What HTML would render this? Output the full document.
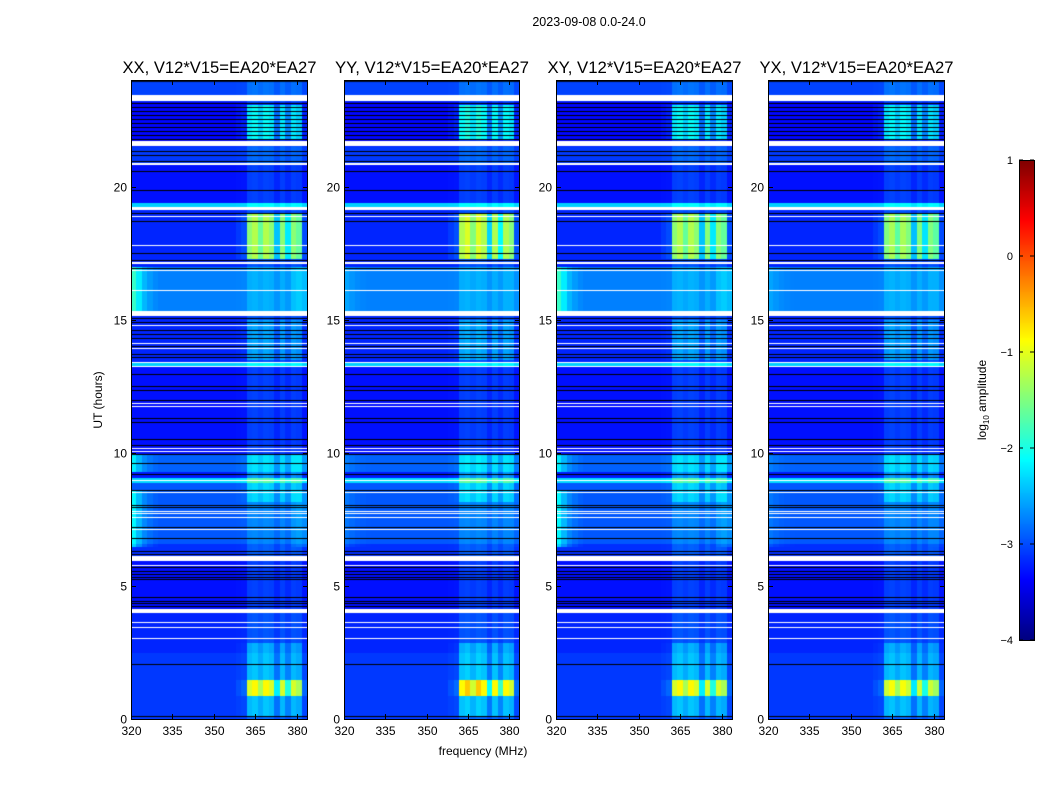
<!DOCTYPE html>
<html><head><meta charset="utf-8">
<style>
body{margin:0;background:#fff;}
#root{position:relative;width:1050px;height:800px;overflow:hidden;background:#fff;font-family:"Liberation Sans",sans-serif;}
canvas{position:absolute;}
svg{position:absolute;left:0;top:0;}
</style></head>
<body>
<div id="root">
<canvas id="c0" width="177" height="639" style="left:131px;top:80px"></canvas>
<canvas id="c1" width="176" height="639" style="left:344px;top:80px"></canvas>
<canvas id="c2" width="177" height="639" style="left:556px;top:80px"></canvas>
<canvas id="c3" width="177" height="639" style="left:768px;top:80px"></canvas>
<canvas id="cb" width="15" height="480" style="left:1019px;top:160px"></canvas>
<svg id="ov" width="1050" height="800"></svg>
</div>
<script>
// ---- data ----
const panelTitles = ["XX, V12*V15=EA20*EA27","YY, V12*V15=EA20*EA27","XY, V12*V15=EA20*EA27","YX, V12*V15=EA20*EA27"];
const panelLeft = [131,344,556,768];
const panelWidth = [177,176,177,177];
const xTicks = [320,335,350,365,380];
const yTicks = [0,5,10,15,20];
const cbTicks = [1,0,-1,-2,-3,-4];
// frequency channels (MHz centres, 2 MHz wide)
const chanFreq = [321,323,325,327,329,331,333,335,337,339,341,343,345,347,349,351,353,355,357,359,361,363,365,367,369,371,373,375,377,379,381,383];
const chanRfi   = [0,0,0,0,0,0,0,0,0,0,0,0,0,0,0,0,0,0,0,0.05,0.1,0.9,1.0,0.8,1.0,0.9,0.4,0.9,0.5,0.9,0.8,0.1];
const chanEdge  = [1.0,0.6,0.3,0.15,0.05,0,0,0,0,0,0,0,0,0,0,0,0,0,0,0,0,0,0,0,0,0,0,0,0,0.1,0.2,0.3];
// base level segments (hours, log10 amplitude)
const segStart = [0,2.5,4.0,6.1,6.6,8.9,9.1,9.3,10.0,13.35,13.45,15.3,17.2,19.2,19.4,20.9,21.7,23.45];
const segEnd   = [2.5,4.0,6.1,6.6,8.9,9.1,9.3,10.0,13.35,13.45,15.3,17.0,19.2,19.4,20.9,21.5,23.2,24.0];
const segLevel = [-3.1,-3.2,-3.3,-3.15,-2.95,-2.3,-3.25,-2.9,-3.3,-2.35,-3.2,-2.75,-3.2,-2.35,-3.3,-3.1,-3.35,-3.05];
// edge-brightening periods
const edgeStart = [6.5,9.3,15.3];
const edgeEnd   = [8.6,10.0,17.0];
const edgeLevel = [0.8,0.7,0.9];
// RFI bursts in the 362-382 MHz channels
const burstStart = [0.9,17.3,21.8,0.1,8.2,13.5,18.3];
const burstEnd   = [1.5,19.0,23.1,2.9,10.0,15.0,18.6];
const burstLevel = [2.0,1.7,1.0,0.45,0.4,0.4,0.35];
const panelBurstScale = [1.0,1.12,1.0,0.97];
const panelEdgeScale  = [1.0,0.2,1.0,0.2];
// flagged (white) bands, hours
const whiteStart = [23.2,21.52,20.83,19.1,18.85,17.78,17.1,16.84,16.09,15.12,14.74,14.1,13.88,13.35,13.2,11.84,11.73,10.15,10.04,8.92,8.5,7.79,7.68,7.53,7.08,5.94,5.76,3.98,3.63,3.44,3.02];
const whiteEnd   = [23.44,21.7,20.9,19.23,18.9,17.82,17.18,16.88,16.13,15.32,14.78,14.14,13.92,13.39,13.24,11.88,11.77,10.19,10.08,8.96,8.54,7.83,7.72,7.57,7.12,6.12,5.8,4.13,3.66,3.47,3.05];
// dark lines, hours
const blackH = [23.95,23.15,23.0,22.85,22.7,22.55,22.4,22.25,22.1,21.95,21.8,21.35,21.2,20.95,20.6,19.85,19.0,18.7,17.5,17.25,16.95,15.05,14.9,14.6,14.45,14.3,14.0,13.7,13.6,12.95,12.5,12.35,12.0,11.3,11.15,10.5,10.3,9.95,9.6,9.2,8.6,8.05,7.95,7.2,6.8,6.3,6.2,5.7,5.55,5.45,5.35,5.25,4.6,4.45,4.35,4.25,2.05,0.1];

// ---- scales ----
const Y0=80, Y1=719, HMAX=24;
function yScale(h){return Y1-(h/HMAX)*(Y1-Y0);}
function xScale(f,p){return panelLeft[p]+(f-320)/64*panelWidth[p];}
function jet(t){t=Math.max(0,Math.min(1,t));
 const r=Math.max(0,Math.min(1,Math.min(4*t-1.5,-4*t+4.5)));
 const g=Math.max(0,Math.min(1,Math.min(4*t-0.5,-4*t+3.5)));
 const b=Math.max(0,Math.min(1,Math.min(4*t+0.5,-4*t+2.5)));
 return `rgb(${Math.round(r*255)},${Math.round(g*255)},${Math.round(b*255)})`;}
function cval(v){return jet((v+4)/5);}
function inSeg(h,s,e){for(let i=0;i<s.length;i++) if(h>=s[i]&&h<e[i]) return i; return -1;}

// ---- heatmaps ----
const NROW=240;
for(let p=0;p<4;p++){
 const cv=document.getElementById('c'+p), ctx=cv.getContext('2d');
 const ox=panelLeft[p];
 ctx.fillStyle=cval(-3.2);ctx.fillRect(0,0,cv.width,cv.height);
 for(let r=0;r<NROW;r++){
  const h0=r*HMAX/NROW, h1=(r+1)*HMAX/NROW, hm=(h0+h1)/2;
  const si=inSeg(hm,segStart,segEnd); const base=si>=0?segLevel[si]:-3.2;
  const ei=inSeg(hm,edgeStart,edgeEnd); const edge=ei>=0?edgeLevel[ei]*panelEdgeScale[p]:0;
  let burst=0; for(let i=0;i<burstStart.length;i++) if(hm>=burstStart[i]&&hm<burstEnd[i]) burst=Math.max(burst,burstLevel[i]);
  burst*=panelBurstScale[p];
  for(let c=0;c<chanFreq.length;c++){
   const v=base+chanRfi[c]*(0.25+burst)+chanEdge[c]*edge;
   const xa=xScale(chanFreq[c]-1,p)-ox, xb=xScale(chanFreq[c]+1,p)-ox;
   ctx.fillStyle=cval(v);
   ctx.fillRect(Math.floor(xa),Math.floor(yScale(h1)-Y0),Math.ceil(xb-xa)+1,Math.ceil(yScale(h0)-yScale(h1))+1);
  }
 }
 ctx.fillStyle='#000';
 for(const h of blackH){ctx.fillRect(0,Math.round(yScale(h)-Y0),cv.width,1);}
 ctx.fillStyle='#fff';
 for(let i=0;i<whiteStart.length;i++){const ya=yScale(whiteEnd[i])-Y0, yb=yScale(whiteStart[i])-Y0;ctx.fillRect(0,Math.round(ya),cv.width,Math.max(1,Math.round(yb-ya)));}
}
// colorbar
{const cv=document.getElementById('cb'),ctx=cv.getContext('2d');
 for(let y=0;y<480;y++){ctx.fillStyle=jet(1-y/479);ctx.fillRect(0,y,15,1);}}

// ---- axes overlay ----
const svg=document.getElementById('ov');const NS='http://www.w3.org/2000/svg';
function mk(tag,attrs,parent){const e=document.createElementNS(NS,tag);for(const k in attrs)e.setAttribute(k,attrs[k]);(parent||svg).appendChild(e);return e;}
function txt(s,attrs,name){const e=mk('text',Object.assign({'font-family':'Liberation Sans, sans-serif','font-size':12,fill:'#000'},attrs));e.textContent=s;
 
 
 return e;}
txt('2023-09-08 0.0-24.0',{x:589,y:26,'text-anchor':'middle','font-size':12.5},'figure-title');
for(let p=0;p<4;p++){
 const L=panelLeft[p],R=L+panelWidth[p];
 const fr=mk('rect',{x:L+0.5,y:Y0+0.5,width:panelWidth[p]-1,height:Y1-Y0,fill:'none',stroke:'#000','stroke-width':1});
 
 
 txt(panelTitles[p],{x:(L+R)/2,y:73,'text-anchor':'middle','font-size':16.5,textLength:194,lengthAdjust:'spacingAndGlyphs'},'panel-title');
 for(const f of xTicks){const x=Math.round(xScale(f,p))+0.5;
  mk('line',{x1:x,x2:x,y1:Y1,y2:Y1-5,stroke:'#000'});mk('line',{x1:x,x2:x,y1:Y0,y2:Y0+5,stroke:'#000'});
  txt(String(f),{x:x,y:Y1+16,'text-anchor':'middle'},'x-tick-label');}
 for(const h of yTicks){const y=Math.round(yScale(h))+0.5;
  mk('line',{x1:L,x2:L+5,y1:y,y2:y,stroke:'#000'});mk('line',{x1:R-5,x2:R,y1:y,y2:y,stroke:'#000'});
  txt(String(h),{x:L-4,y:y+4,'text-anchor':'end'},'y-tick-label');}
}
txt('frequency (MHz)',{x:483,y:755,'text-anchor':'middle'},'x-axis-title');
txt('UT (hours)',{x:0,y:0,transform:'translate(102,400) rotate(-90)','text-anchor':'middle'},'y-axis-title');
const cbf=mk('rect',{x:1019.5,y:160.5,width:15,height:480,fill:'none',stroke:'#000'});


cbTicks.forEach((v,i)=>{const y=160+(1-v)/5*480;
 mk('line',{x1:1019,x2:1023,y1:y,y2:y,stroke:'#000'});mk('line',{x1:1030,x2:1034,y1:y,y2:y,stroke:'#000'});
 txt(v<0?'\u2212'+(-v):String(v),{x:1013,y:y+4,'text-anchor':'end','font-size':11},'colorbar-tick-label');});
const cl=mk('text',{x:0,y:0,transform:'translate(986,400) rotate(-90)','text-anchor':'middle','font-family':'Liberation Sans, sans-serif','font-size':12});


cl.innerHTML='log<tspan font-size="8" dy="3">10</tspan><tspan dy="-3"> amplitude</tspan>';
</script>
</body></html>
